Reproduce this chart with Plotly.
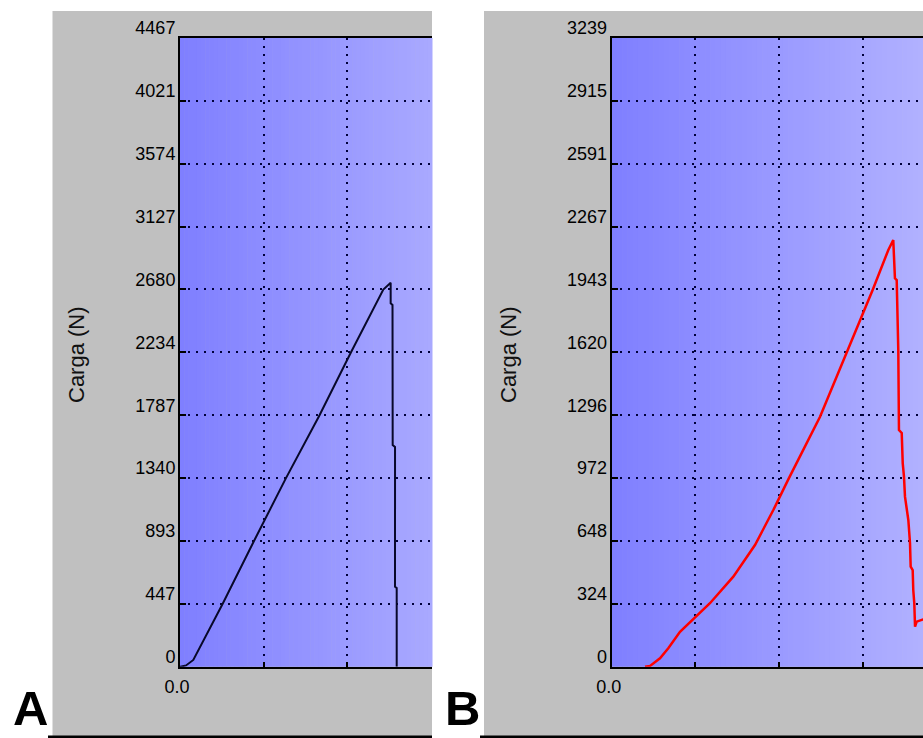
import plotly.graph_objects as go

# ---------------- data ----------------
# Panel A: load (N) vs displacement (arbitrary units, gridline step = 1)
a_x = [0.0, 0.072, 0.159, 0.510, 0.884, 1.266, 1.667, 2.043, 2.429, 2.517, 2.517, 2.539, 2.541, 2.569, 2.569, 2.589, 2.589]
a_y = [0, 9, 48, 447, 893, 1340, 1787, 2234, 2680, 2728, 2582, 2570, 1575, 1561, 568, 559, 0]
a_ymax = 4467
a_yticklabels = ["0", "447", "893", "1340", "1787", "2234", "2680", "3127", "3574", "4021", "4467"]

# Panel B
b_x = [0.398, 0.458, 0.577, 0.676, 0.816, 0.983, 1.174, 1.453, 1.712, 1.931, 2.110, 2.489,
       2.808, 3.114, 3.305, 3.364, 3.384, 3.405, 3.424, 3.432, 3.465, 3.477, 3.492, 3.504, 3.544,
       3.564, 3.572, 3.596, 3.603, 3.615, 3.624, 3.644, 3.704, 3.743]
b_y = [0, 4, 43, 95, 180, 249, 327, 464, 627, 807, 965, 1288,
       1620, 1937, 2147, 2198, 2001, 1992, 1632, 1219, 1204, 1049, 979, 876, 756,
       636, 515, 498, 395, 328, 206, 232, 241, 246]
b_ymax = 3239
b_yticklabels = ["0", "324", "648", "972", "1296", "1620", "1943", "2267", "2591", "2915", "3239"]

x_tickvals = [0, 1, 2, 3]
x_ticktext = ["0.0", "", "", ""]
y_title = "Carga (N)"
panel_labels = ["A", "B"]

# ---------------- layout helpers ----------------
W, H = 923, 738
def fx(px):
    return px / W
def fy(py):
    return 1 - py / H

TICK_FONT = dict(family="Liberation Sans, Arial, sans-serif", size=18, color="black")
GRID = "#00003a"

fig = go.Figure()
fig.add_trace(go.Scatter(x=a_x, y=a_y, mode="lines", line=dict(color="#08082a", width=2),
                         xaxis="x", yaxis="y", showlegend=False, hoverinfo="skip"))
fig.add_trace(go.Scatter(x=b_x, y=b_y, mode="lines", line=dict(color="#ff0000", width=2.5),
                         xaxis="x2", yaxis="y2", showlegend=False, hoverinfo="skip"))

plot_top, plot_bot = 38, 666.7
ydom = [fy(plot_bot), fy(plot_top)]

def xaxis(dom, rng, anchor):
    return dict(domain=dom, range=rng, anchor=anchor, tickvals=x_tickvals, ticktext=x_ticktext,
                showline=True, linecolor="black", linewidth=2, mirror=True,
                ticks="inside", ticklen=5, tickwidth=2, tickcolor="black",
                showgrid=True, gridcolor=GRID, gridwidth=1.5, griddash="2px,6px",
                zeroline=False, tickfont=TICK_FONT, ticklabelstandoff=3, ticklabelshift=-3,
                automargin=False, fixedrange=True)

def yaxis(ymax, labels, anchor):
    n = len(labels) - 1
    return dict(domain=ydom, range=[0, ymax], anchor=anchor,
                tickvals=[ymax * i / n for i in range(n + 1)], ticktext=labels,
                showline=True, linecolor="black", linewidth=2, mirror=False,
                ticks="inside", ticklen=6, tickwidth=2, tickcolor="black",
                showgrid=True, gridcolor=GRID, gridwidth=1.5, griddash="2px,6px",
                zeroline=False, tickfont=TICK_FONT, ticklabelshift=-10, ticklabelstandoff=-1,
                automargin=False, fixedrange=True)

a_left, a_right = 180, 432
b_left, b_right = 611.7, 923
px_per_unit = 83.7

fig.update_layout(
    width=W, height=H, margin=dict(l=0, r=0, t=0, b=0, autoexpand=False),
    paper_bgcolor="white", plot_bgcolor="#8080ff",
    xaxis=xaxis([fx(a_left), fx(a_right)], [0, (a_right - a_left) / px_per_unit], "y"),
    yaxis=yaxis(a_ymax, a_yticklabels, "x"),
    xaxis2=xaxis([fx(b_left), 1.0], [0, (b_right - b_left) / px_per_unit], "y2"),
    yaxis2=yaxis(b_ymax, b_yticklabels, "x2"),
)

shapes = []
# grey panels and black baselines
for gx0, gx1, lx0 in [(52.5, 432, 48), (484, 923, 480)]:
    shapes.append(dict(type="rect", xref="paper", yref="paper", x0=fx(gx0), x1=fx(gx1),
                       y0=fy(736), y1=fy(11), fillcolor="#c0c0c0", line=dict(width=0), layer="below"))
    shapes.append(dict(type="rect", xref="paper", yref="paper", x0=fx(lx0), x1=fx(gx1),
                       y0=fy(738.5), y1=fy(735.5), fillcolor="black", line=dict(width=0), layer="above"))

# horizontal gradient of the plotting areas
N = 60
for xr, yr, c0, c1 in [("x domain", "y domain", (127, 127, 255), (169, 169, 255)),
                       ("x2 domain", "y2 domain", (127, 127, 255), (177, 177, 255))]:
    for i in range(N):
        t = (i + 0.5) / N
        col = tuple(round(c0[k] + (c1[k] - c0[k]) * t) for k in range(3))
        shapes.append(dict(type="rect", xref=xr, yref=yr, x0=i / N, x1=(i + 1) / N + 0.002, y0=0, y1=1,
                           fillcolor="rgb(%d,%d,%d)" % col, line=dict(width=0), layer="below"))
fig.update_layout(shapes=shapes)

annotations = []
for cx in [76, 508]:
    annotations.append(dict(text=y_title, xref="paper", yref="paper", x=fx(cx), y=fy(355),
                            showarrow=False, textangle=-90, xanchor="center", yanchor="middle",
                            font=dict(family="Liberation Sans, Arial, sans-serif", size=22, color="#111")))
for lab, cx in zip(panel_labels, [31, 463]):
    annotations.append(dict(text="<b>%s</b>" % lab, xref="paper", yref="paper", x=fx(cx), y=fy(737),
                            showarrow=False, xanchor="center", yanchor="bottom",
                            font=dict(family="Liberation Sans, Arial, sans-serif", size=49, color="black")))
fig.update_layout(annotations=annotations)

fig.write_html("out.html", config={"displayModeBar": False},
               post_script="document.body.style.margin='0px';document.body.style.overflow='hidden';")
